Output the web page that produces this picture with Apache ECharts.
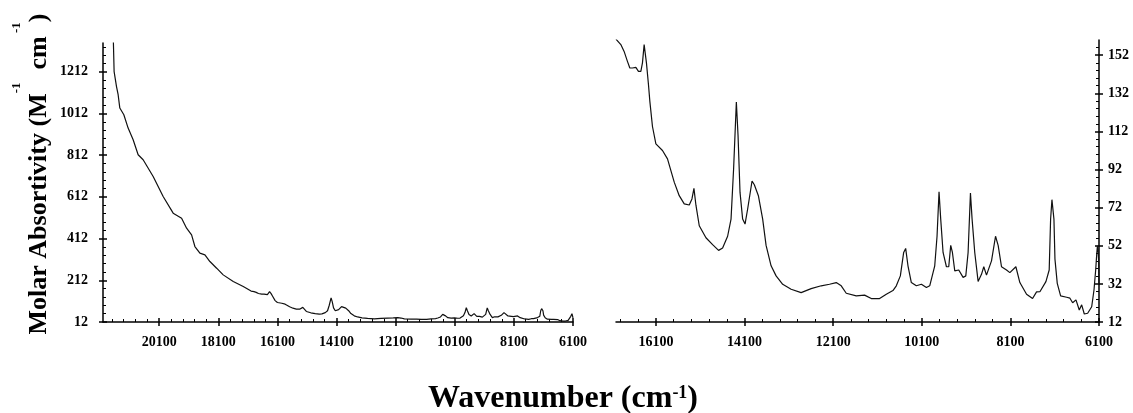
<!DOCTYPE html>
<html>
<head>
<meta charset="utf-8">
<script src="https://cdn.jsdelivr.net/npm/echarts@6/dist/echarts.min.js"></script>
<style>
html,body{margin:0;padding:0;background:#fff;}
#chart{width:1133px;height:413px;}
</style>
</head>
<body>
<div id="chart"></div>
<script>
// ---- data ----
const wavenumbers = [
  21660, 21624, 21543, 21488, 21431, 21295, 21150, 20980, 20811, 20642,
  20303, 19965, 19626, 19341, 19172, 19003, 18891, 18722, 18552, 18383,
  18156, 17933, 17594, 17255, 16991, 16891, 16817, 16742, 16688, 16629,
  16552, 16493, 16439, 16403, 16365, 16342, 16313, 16267, 16236, 16177,
  16100, 15951, 15838, 15686, 15573, 15460, 15347, 15286, 15241, 15196,
  15121, 14970, 14820, 14685, 14594, 14481, 14404, 14346, 14284, 14246,
  14201, 14142, 14088, 14029, 13930, 13878, 13787, 13690, 13613, 13500,
  13387, 13238, 13048, 12822, 12596, 12369, 12182, 12030, 11917, 11804,
  11578, 11390, 11239, 11051, 10900, 10750, 10674, 10583, 10508, 10463,
  10411, 10335, 10222, 10108, 9995, 9920, 9807, 9755, 9710, 9672,
  9619, 9543, 9491, 9446, 9408, 9355, 9265, 9167, 9106, 9054,
  9001, 8964, 8904, 8828, 8752, 8700, 8639, 8526, 8435, 8376,
  8300, 8187, 8112, 7976, 7886, 7735, 7599, 7509, 7434, 7298,
  7224, 7192, 7162, 7117, 7094, 7042, 6966, 6830, 6756, 6695,
  6620, 6545, 6491, 6432, 6356, 6265, 6213, 6175, 6150, 6135,
  6120, 6110, 6100
];
const absorptivity = [
  1420, 1213, 1141, 1102, 1038, 1006, 942, 886, 814, 790,
  710, 614, 534, 510, 462, 430, 374, 342, 334, 302,
  270, 238, 206, 182, 160.2, 157.6, 154, 148.8, 145.3, 145.3,
  145.6, 143.5, 143.5, 148, 157.6, 157.6, 148, 136.5, 127.8, 114.6,
  105.5, 102, 97.6, 85.4, 78.3, 74, 73.4, 76.6, 82.1, 73.3,
  62.5, 56.2, 52.6, 49.6, 50.8, 57, 66, 92.4, 127.5, 110,
  80, 66, 63.4, 71.3, 86, 84, 78.3, 66, 52.2, 41.5,
  36.2, 31.8, 29.2, 27.4, 29.5, 31, 31.8, 32.7, 31, 27.1,
  25.7, 26.1, 24.3, 24.3, 26.6, 28.5, 31, 36.2, 48.5, 50.6,
  41.5, 32.7, 31, 31.8, 30.1, 31, 41.5, 57, 80.3, 66,
  48.5, 41, 41, 52.2, 48.5, 38.8, 39.3, 35.4, 36.2, 48.5,
  79.7, 66, 48.5, 33.3, 37, 41, 36.6, 44.1, 57, 52.2,
  41, 39.3, 37.9, 41, 32.7, 26.6, 24.3, 27.8, 27.9, 33.2,
  39.3, 66, 76.2, 66, 45, 32.3, 25.7, 25, 24.5, 22.1,
  23.6, 18.3, 21, 16.2, 16.6, 20, 28.8, 39.3, 48, 52,
  50, 45, 32
];

// tick labels
const leftXTicks  = [6100, 8100, 10100, 12100, 14100, 16100, 18100, 20100];
const rightXTicks = [6100, 8100, 10100, 12100, 14100, 16100];
const leftYTicks  = [12, 212, 412, 612, 812, 1012, 1212];
const rightYTicks = [12, 32, 52, 72, 92, 112, 132, 152];
// axis extents
const leftXRange  = [6100, 22000];
const rightXRange = [6100, 17000];
const leftYRange  = [12, 1350];
const rightYRange = [12, 160];

const points = wavenumbers.map((w, i) => [w, absorptivity[i]]);

const FONT = '"Liberation Serif", "Times New Roman", serif';
const labelStyle = { fontFamily: FONT, fontWeight: 'bold', fontSize: 14, color: '#000' };
const lineStyle = { color: '#000', width: 1.5 };
const plain = v => String(v);

function axisSet(dim, grid, pos, range, ticks, margin) {
  const base = {
    type: 'value', gridIndex: grid, position: pos,
    min: range[0], max: range[1], interval: ticks[1] - ticks[0],
    splitLine: { show: false }, minorSplitLine: { show: false }
  };
  if (dim === 'x') base.inverse = true;
  const main = Object.assign({}, base, {
    axisLine: { show: true, onZero: false, lineStyle },
    axisTick: { show: true, inside: true, length: 4, lineStyle, customValues: ticks },
    axisLabel: Object.assign({ margin: margin, customValues: ticks, formatter: plain }, labelStyle)
  });
  const outer = Object.assign({}, base, {
    axisLine: { show: false, onZero: false },
    axisTick: { show: true, inside: false, length: 4, lineStyle, customValues: ticks },
    axisLabel: { show: false }
  });
  const minor = Object.assign({}, base, {
    axisLine: { show: false, onZero: false },
    axisTick: { show: false, inside: true, length: 4 },
    minorTick: { show: true, splitNumber: 5, length: 3, lineStyle: { color: '#000', width: 1 } },
    axisLabel: { show: false }
  });
  return [main, outer, minor];
}

const xAxes = axisSet('x', 0, 'bottom', leftXRange, leftXTicks, 13)
  .concat(axisSet('x', 1, 'bottom', rightXRange, rightXTicks, 13));
const yAxes = axisSet('y', 0, 'left', leftYRange, leftYTicks, 15)
  .concat(axisSet('y', 1, 'right', rightYRange, rightYTicks, 9));

const chart = echarts.init(document.getElementById('chart'), null, { renderer: 'canvas' });
chart.setOption({
  animation: false,
  backgroundColor: '#fff',
  grid: [
    { left: 103, right: 560, top: 43, bottom: 91 },
    { left: 616, right: 34, top: 40, bottom: 91 }
  ],
  xAxis: xAxes,
  yAxis: yAxes,
  series: [
    { type: 'line', xAxisIndex: 0, yAxisIndex: 0, data: points, showSymbol: false, clip: true,
      lineStyle: { color: '#111', width: 1.2 } },
    { type: 'line', xAxisIndex: 3, yAxisIndex: 3, data: points, showSymbol: false, clip: true,
      lineStyle: { color: '#111', width: 1.2 } }
  ],
  graphic: [
    {
      type: 'text', x: 39, y: 174, rotation: Math.PI / 2,
      style: {
        text: '{m|Molar Absortivity (M}{s|-1}{m|  cm}{s| -1}{m|)}',
        align: 'center', verticalAlign: 'middle',
        rich: {
          m: { fontFamily: FONT, fontWeight: 'bold', fontSize: 26, lineHeight: 58, fill: '#000' },
          s: { fontFamily: FONT, fontWeight: 'bold', fontSize: 13, lineHeight: 13, verticalAlign: 'top', fill: '#000' }
        }
      }
    },
    {
      type: 'text', x: 563, y: 399,
      style: {
        text: '{m|Wavenumber (cm}{s|-1}{m|)}',
        align: 'center', verticalAlign: 'middle',
        rich: {
          m: { fontFamily: FONT, fontWeight: 'bold', fontSize: 32, lineHeight: 30, fill: '#000' },
          s: { fontFamily: FONT, fontWeight: 'bold', fontSize: 18, lineHeight: 18, verticalAlign: 'top', fill: '#000' }
        }
      }
    }
  ]
});
</script>
</body>
</html>
